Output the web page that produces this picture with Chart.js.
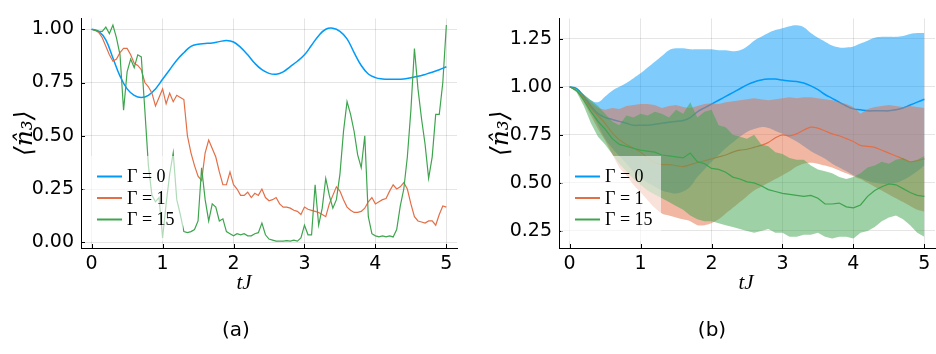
<!DOCTYPE html>
<html>
<head>
<meta charset="utf-8">
<title>n3 expectation, Gamma comparison</title>
<script src="https://cdn.jsdelivr.net/npm/chart.js@4.4.1/dist/chart.umd.min.js"></script>
<style>
  html, body { margin: 0; padding: 0; background: #fff; }
  #wrap { position: relative; width: 936px; height: 354px; overflow: hidden; }
  canvas { position: absolute; top: 0; }
  #chartA { left: 0; }
  #chartB { left: 470px; }
  .panel-label { position: absolute; top: 317px; font: 20px "DejaVu Sans", sans-serif; color: #000; transform: translateX(-50%); }
  .x-title { position: absolute; top: 270px; font: italic 21px "Liberation Serif", serif; color: #000; transform: translateX(-50%); }
</style>
</head>
<body>
<div id="wrap">
  <canvas id="chartA" width="470" height="300" style="width:470px;height:300px"></canvas>
  <canvas id="chartB" width="466" height="300" style="width:466px;height:300px"></canvas>
  <div class="x-title" style="left:244px">tJ</div>
  <div class="x-title" style="left:746px">tJ</div>
  <div class="panel-label" style="left:236px">(a)</div>
  <div class="panel-label" style="left:712px">(b)</div>
</div>
<script>
// time grids (tJ), 0.05 steps for the single trajectories, 0.1 steps for the averages
const tFine = Array.from({ length: 101 }, (_, i) => +(i * 0.05).toFixed(2));
const tCoarse = Array.from({ length: 51 }, (_, i) => +(i * 0.1).toFixed(1));

const xTicks = [0, 1, 2, 3, 4, 5];
const xTickLabels = ["0", "1", "2", "3", "4", "5"];
const yTicksA = [0, 0.25, 0.5, 0.75, 1.0];
const yTickLabelsA = ["0.00", "0.25", "0.50", "0.75", "1.00"];
const yTicksB = [0.25, 0.5, 0.75, 1.0, 1.25];
const yTickLabelsB = ["0.25", "0.50", "0.75", "1.00", "1.25"];
const legendLabels = ["Γ = 0", "Γ = 1", "Γ = 15"];

// (a) single trajectories
const gamma0A = [1.0, 0.99, 0.95, 0.865, 0.78, 0.72, 0.69, 0.68, 0.69, 0.72,
  0.765, 0.81, 0.855, 0.89, 0.92, 0.93, 0.933, 0.936, 0.942, 0.947,
  0.94, 0.915, 0.88, 0.84, 0.81, 0.793, 0.789, 0.80, 0.825, 0.85,
  0.88, 0.925, 0.97, 1.0, 1.005, 0.99, 0.955, 0.89, 0.83, 0.79,
  0.773, 0.767, 0.765, 0.765, 0.767, 0.772, 0.779, 0.788, 0.798, 0.81,
  0.824];
const gamma1A = [1.00, 0.995, 0.985, 0.96, 0.92, 0.88, 0.85, 0.86, 0.89, 0.91,
  0.91, 0.88, 0.84, 0.83, 0.81, 0.75, 0.73, 0.70, 0.64, 0.68,
  0.72, 0.65, 0.70, 0.66, 0.69, 0.68, 0.67, 0.50, 0.42, 0.36,
  0.31, 0.29, 0.42, 0.48, 0.44, 0.40, 0.33, 0.27, 0.27, 0.33,
  0.27, 0.25, 0.22, 0.22, 0.235, 0.21, 0.23, 0.22, 0.25, 0.21,
  0.195, 0.20, 0.21, 0.18, 0.165, 0.165, 0.16, 0.15, 0.145, 0.13,
  0.165, 0.155, 0.15, 0.145, 0.14, 0.13, 0.12, 0.18, 0.22, 0.26,
  0.24, 0.20, 0.165, 0.15, 0.14, 0.14, 0.145, 0.16, 0.19, 0.21,
  0.18, 0.19, 0.20, 0.205, 0.24, 0.27, 0.25, 0.26, 0.28, 0.25,
  0.18, 0.12, 0.10, 0.095, 0.09, 0.10, 0.10, 0.08, 0.13, 0.17,
  0.165];
const gamma15A = [1.00, 0.995, 0.99, 0.99, 1.01, 0.98, 1.02, 0.96, 0.88, 0.62,
  0.80, 0.86, 0.82, 0.88, 0.87, 0.62, 0.36, 0.22, 0.19, 0.21,
  0.02, 0.18, 0.32, 0.42, 0.20, 0.13, 0.05, 0.045, 0.05, 0.06,
  0.10, 0.35, 0.20, 0.10, 0.18, 0.165, 0.10, 0.11, 0.05, 0.04,
  0.03, 0.04, 0.035, 0.04, 0.03, 0.03, 0.04, 0.045, 0.09, 0.035,
  0.015, 0.01, 0.005, 0.005, 0.005, 0.008, 0.005, 0.01, 0.005, 0.02,
  0.08, 0.035, 0.035, 0.27, 0.08, 0.16, 0.30, 0.22, 0.16, 0.20,
  0.32, 0.52, 0.66, 0.60, 0.52, 0.41, 0.35, 0.50, 0.12, 0.04,
  0.03, 0.025, 0.03, 0.025, 0.03, 0.025, 0.06, 0.17, 0.25, 0.40,
  0.62, 0.91, 0.72, 0.58, 0.46, 0.30, 0.40, 0.60, 0.60, 0.75,
  1.02];

// (b) averages with their spread
const mean0B = [1.0, 0.99, 0.95, 0.90, 0.86, 0.84, 0.83, 0.82, 0.81, 0.80,
  0.80, 0.80, 0.805, 0.81, 0.815, 0.82, 0.825, 0.84, 0.87, 0.89,
  0.91, 0.93, 0.95, 0.97, 0.99, 1.01, 1.025, 1.035, 1.04, 1.04,
  1.035, 1.03, 1.028, 1.02, 1.005, 0.985, 0.96, 0.94, 0.92, 0.90,
  0.885, 0.88, 0.875, 0.875, 0.875, 0.875, 0.88, 0.89, 0.905, 0.92,
  0.935];
const upper0B = [1.0, 0.99, 0.96, 0.93, 0.92, 0.95, 0.98, 1.0, 1.02, 1.045,
  1.07, 1.10, 1.13, 1.16, 1.19, 1.20, 1.20, 1.195, 1.195, 1.195,
  1.195, 1.19, 1.19, 1.185, 1.19, 1.21, 1.24, 1.26, 1.28, 1.295,
  1.305, 1.315, 1.32, 1.31, 1.28, 1.255, 1.235, 1.215, 1.205, 1.205,
  1.21, 1.225, 1.24, 1.255, 1.26, 1.26, 1.26, 1.265, 1.275, 1.28,
  1.28];
const lower0B = [1.0, 0.99, 0.94, 0.87, 0.80, 0.73, 0.68, 0.64, 0.60, 0.56,
  0.53, 0.50, 0.48, 0.46, 0.45, 0.445, 0.455, 0.48, 0.53, 0.57,
  0.61, 0.645, 0.68, 0.71, 0.74, 0.765, 0.78, 0.79, 0.785, 0.77,
  0.755, 0.735, 0.715, 0.69, 0.665, 0.645, 0.625, 0.60, 0.58, 0.56,
  0.54, 0.525, 0.51, 0.50, 0.495, 0.495, 0.50, 0.515, 0.535, 0.56,
  0.59];
const mean1B = [1.0, 0.98, 0.94, 0.89, 0.85, 0.81, 0.76, 0.725, 0.70, 0.68,
  0.66, 0.63, 0.605, 0.595, 0.595, 0.59, 0.585, 0.595, 0.605, 0.615,
  0.625, 0.635, 0.645, 0.66, 0.67, 0.675, 0.685, 0.695, 0.71, 0.735,
  0.75, 0.745, 0.755, 0.775, 0.79, 0.785, 0.77, 0.755, 0.745, 0.73,
  0.715, 0.695, 0.69, 0.685, 0.67, 0.655, 0.64, 0.625, 0.61, 0.615,
  0.625];
const upper1B = [1.0, 0.985, 0.955, 0.92, 0.89, 0.88, 0.89, 0.885, 0.90, 0.905,
  0.91, 0.91, 0.905, 0.89, 0.90, 0.905, 0.895, 0.89, 0.90, 0.91,
  0.915, 0.91, 0.92, 0.925, 0.93, 0.935, 0.94, 0.935, 0.93, 0.935,
  0.94, 0.945, 0.94, 0.945, 0.945, 0.94, 0.935, 0.93, 0.92, 0.91,
  0.895, 0.86, 0.885, 0.895, 0.90, 0.905, 0.90, 0.895, 0.90, 0.895,
  0.89];
const lower1B = [1.0, 0.975, 0.92, 0.85, 0.78, 0.72, 0.65, 0.58, 0.54, 0.49,
  0.45, 0.41, 0.37, 0.34, 0.33, 0.32, 0.31, 0.30, 0.28, 0.28,
  0.29, 0.31, 0.34, 0.37, 0.40, 0.43, 0.46, 0.48, 0.50, 0.52,
  0.54, 0.56, 0.585, 0.60, 0.605, 0.60, 0.59, 0.58, 0.565, 0.55,
  0.535, 0.52, 0.50, 0.48, 0.46, 0.44, 0.42, 0.40, 0.38, 0.36,
  0.35];
const mean15B = [1.0, 0.98, 0.93, 0.87, 0.82, 0.78, 0.73, 0.70, 0.69, 0.68,
  0.67, 0.665, 0.66, 0.645, 0.64, 0.635, 0.63, 0.655, 0.61, 0.60,
  0.575, 0.57, 0.555, 0.53, 0.52, 0.505, 0.50, 0.485, 0.465, 0.455,
  0.445, 0.44, 0.435, 0.43, 0.435, 0.42, 0.39, 0.39, 0.395, 0.375,
  0.37, 0.385, 0.43, 0.46, 0.48, 0.495, 0.49, 0.47, 0.45, 0.435,
  0.43];
const upper15B = [1.0, 0.99, 0.96, 0.93, 0.90, 0.86, 0.82, 0.80, 0.85, 0.84,
  0.86, 0.85, 0.87, 0.86, 0.84, 0.88, 0.86, 0.92, 0.84, 0.87,
  0.88, 0.80, 0.79, 0.75, 0.74, 0.73, 0.75, 0.70, 0.69, 0.66,
  0.65, 0.63, 0.62, 0.62, 0.59, 0.57, 0.56, 0.55, 0.53, 0.52,
  0.53, 0.55, 0.58, 0.59, 0.61, 0.60, 0.62, 0.63, 0.61, 0.62,
  0.64];
const lower15B = [1.0, 0.97, 0.90, 0.81, 0.74, 0.70, 0.65, 0.60, 0.56, 0.52,
  0.49, 0.46, 0.44, 0.42, 0.40, 0.38, 0.36, 0.33, 0.31, 0.30,
  0.30, 0.29, 0.28, 0.27, 0.26, 0.25, 0.24, 0.25, 0.26, 0.24,
  0.24, 0.22, 0.22, 0.23, 0.23, 0.24, 0.22, 0.21, 0.22, 0.22,
  0.21, 0.24, 0.25, 0.27, 0.30, 0.32, 0.33, 0.31, 0.28, 0.24,
  0.22];

const BLUE = "#009AFA";
const ORANGE = "#E36F47";
const GREEN = "#3EA44E";
const seriesColors = [BLUE, ORANGE, GREEN];

const pts = (xs, ys) => ys.map((y, i) => ({ x: xs[i], y: y }));

// legend box sitting inside the plot area, drawn over the data
const insetLegend = {
  id: "insetLegend",
  afterDraw(chart) {
    const { ctx, chartArea } = chart;
    const left = chartArea.left;
    ctx.save();
    ctx.fillStyle = "rgba(255,255,255,0.6)";
    ctx.fillRect(left + 2, 156, 100, 85);
    legendLabels.forEach((label, i) => {
      const y = 176.5 + i * 21.5;
      ctx.strokeStyle = seriesColors[i];
      ctx.lineWidth = 2;
      ctx.beginPath();
      ctx.moveTo(left + 16, y);
      ctx.lineTo(left + 41, y);
      ctx.stroke();
      ctx.fillStyle = "#000";
      ctx.font = '18px "Liberation Serif", serif';
      ctx.textBaseline = "middle";
      ctx.fillText(label, left + 46, y + 1);
    });
    ctx.restore();
  }
};

// short tick marks pointing into the plot
const innerTicks = {
  id: "innerTicks",
  afterDatasetsDraw(chart) {
    const { ctx, chartArea, scales } = chart;
    ctx.save();
    ctx.strokeStyle = "#000";
    ctx.lineWidth = 1;
    ctx.beginPath();
    scales.x.ticks.forEach((t) => {
      const px = Math.round(scales.x.getPixelForValue(t.value)) + 0.5;
      ctx.moveTo(px, chartArea.bottom);
      ctx.lineTo(px, chartArea.bottom - 4);
    });
    scales.y.ticks.forEach((t) => {
      const py = Math.round(scales.y.getPixelForValue(t.value)) + 0.5;
      ctx.moveTo(chartArea.left, py);
      ctx.lineTo(chartArea.left + 4, py);
    });
    ctx.stroke();
    ctx.restore();
  }
};

const buildOptions = (c) => ({
  responsive: false,
  animation: false,
  events: [],
  layout: { padding: { left: 0, right: c.padRight, top: 3, bottom: 0 } },
  plugins: { legend: { display: false }, tooltip: { enabled: false } },
  scales: {
    x: {
      type: "linear",
      min: -0.15,
      max: 5.15,
      afterBuildTicks: (s) => { s.ticks = xTicks.map((v) => ({ value: v })); },
      afterFit: (s) => { s.height = 52; },
      ticks: {
        callback: (v, i) => xTickLabels[i],
        color: "#000",
        font: { size: 19 },
        padding: 5,
        maxRotation: 0,
        autoSkip: false
      },
      grid: { color: "rgba(0,0,0,0.1)", drawTicks: false },
      border: { color: "#000", width: 1 }
    },
    y: {
      type: "linear",
      min: c.yMin,
      max: c.yMax,
      afterBuildTicks: (s) => { s.ticks = c.yTicks.map((v) => ({ value: v })); },
      afterFit: (s) => { s.width = c.yWidth; },
      ticks: {
        callback: (v, i) => c.yLabels[i],
        color: "#000",
        font: { size: 19 },
        padding: 7
      },
      grid: { color: "rgba(0,0,0,0.1)", drawTicks: false },
      border: { color: "#000", width: 1 },
      title: {
        display: true,
        text: "⟨n̂₃⟩",
        color: "#000",
        font: { family: '"DejaVu Serif", serif', style: "italic", size: 25 },
        padding: { top: c.titlePad, bottom: 0 }
      }
    }
  }
});

const lineSet = (label, data, color, width, tension, order) => ({
  label, data, borderColor: color, borderWidth: width, pointRadius: 0,
  tension, fill: false, order
});
const bandSet = (data, color, tension, order, fillTo) => ({
  data, borderColor: "rgba(0,0,0,0)", borderWidth: 0, pointRadius: 0,
  backgroundColor: color, tension, fill: fillTo, order
});

Chart.defaults.font.family = '"DejaVu Sans", sans-serif';

new Chart(document.getElementById("chartA"), {
  type: "line",
  data: {
    datasets: [
      lineSet("Γ = 15", pts(tFine, gamma15A), GREEN, 1.2, 0, 0),
      lineSet("Γ = 1", pts(tFine, gamma1A), ORANGE, 1.2, 0, 1),
      lineSet("Γ = 0", pts(tCoarse, gamma0A), BLUE, 1.5, 0.4, 2)
    ]
  },
  options: buildOptions({
    yMin: -0.027, yMax: 1.051, yTicks: yTicksA, yLabels: yTickLabelsA,
    yWidth: 81, padRight: 13, titlePad: 10
  }),
  plugins: [innerTicks, insetLegend]
});

new Chart(document.getElementById("chartB"), {
  type: "line",
  data: {
    datasets: [
      lineSet("Γ = 15", pts(tCoarse, mean15B), GREEN, 1.2, 0, 0),
      bandSet(pts(tCoarse, upper15B), "rgba(62,164,78,0.5)", 0, 1, "+1"),
      bandSet(pts(tCoarse, lower15B), "rgba(62,164,78,0.5)", 0, 1, false),
      lineSet("Γ = 1", pts(tCoarse, mean1B), ORANGE, 1.2, 0.3, 2),
      bandSet(pts(tCoarse, upper1B), "rgba(227,111,71,0.5)", 0, 3, "+1"),
      bandSet(pts(tCoarse, lower1B), "rgba(227,111,71,0.5)", 0.3, 3, false),
      lineSet("Γ = 0", pts(tCoarse, mean0B), BLUE, 1.5, 0.4, 4),
      bandSet(pts(tCoarse, upper0B), "rgba(0,154,250,0.5)", 0.4, 5, "+1"),
      bandSet(pts(tCoarse, lower0B), "rgba(0,154,250,0.5)", 0.4, 5, false)
    ]
  },
  options: buildOptions({
    yMin: 0.161, yMax: 1.356, yTicks: yTicksB, yLabels: yTickLabelsB,
    yWidth: 89, padRight: 1, titlePad: 16
  }),
  plugins: [innerTicks, insetLegend]
});
</script>
</body>
</html>
